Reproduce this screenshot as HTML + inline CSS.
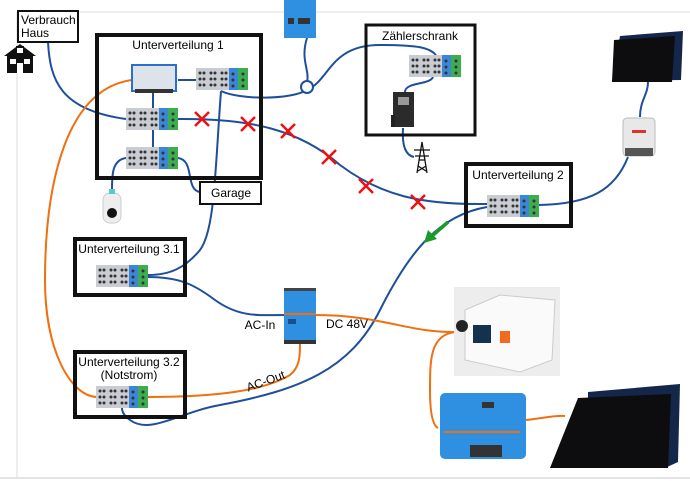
<!DOCTYPE html>
<html><head><meta charset="utf-8"><style>
html,body{margin:0;padding:0;background:#fff;}
svg{display:block;font-family:"Liberation Sans",sans-serif;}
</style></head><body>
<svg width="690" height="481" viewBox="0 0 690 481" xmlns="http://www.w3.org/2000/svg">
<defs>
<g id="tb">
<rect x="0" y="0" width="33" height="22" fill="#c9cdd3"/>
<rect x="33" y="0" width="9" height="22" fill="#3b86d8"/>
<rect x="42" y="0" width="10" height="22" fill="#3cae4f"/>
<g fill="#333">
<circle cx="4" cy="5" r="1.5"/><circle cx="8" cy="5" r="1.5"/><circle cx="4" cy="11" r="1.5"/><circle cx="8" cy="11" r="1.5"/><circle cx="4" cy="17" r="1.5"/><circle cx="8" cy="17" r="1.5"/>
<circle cx="15" cy="5" r="1.5"/><circle cx="19" cy="5" r="1.5"/><circle cx="15" cy="11" r="1.5"/><circle cx="19" cy="11" r="1.5"/><circle cx="15" cy="17" r="1.5"/><circle cx="19" cy="17" r="1.5"/>
<circle cx="26" cy="5" r="1.5"/><circle cx="30" cy="5" r="1.5"/><circle cx="26" cy="11" r="1.5"/><circle cx="30" cy="11" r="1.5"/><circle cx="26" cy="17" r="1.5"/><circle cx="30" cy="17" r="1.5"/>
<circle cx="37" cy="6" r="1.5"/><circle cx="37" cy="12" r="1.5"/><circle cx="37" cy="18" r="1.5"/>
<circle cx="47" cy="6" r="1.5"/><circle cx="47" cy="12" r="1.5"/><circle cx="47" cy="18" r="1.5"/>
</g>
</g>
<g id="x"><path d="M-7,-7 L7,7 M7,-7 L-7,7" stroke="#f01010" stroke-width="2.5"/></g>
</defs>
<rect width="690" height="481" fill="#fff"/>
<line x1="17" y1="12" x2="690" y2="12" stroke="#ddd"/>
<line x1="17" y1="12" x2="17" y2="478" stroke="#ddd"/>
<line x1="0" y1="478" x2="690" y2="478" stroke="#e3e3e3" stroke-width="2"/>

<g fill="none" stroke="#1f4e9c" stroke-width="2">
<path d="M48,42 C50,80 60,110 126,119"/>
<path d="M178,119 C250,118 300,130 340,165 C380,195 420,205 487,204"/>
<path d="M178,80 L196,80"/>
<path d="M221,91 C240,100 290,100 307,90 C330,80 330,45 380,45 C420,45 430,48 436,55"/>
<path d="M307,38 C300,60 310,70 307,82"/>
<circle cx="307" cy="87" r="6" fill="#fff"/>
<path d="M433,77 C430,85 405,82 405,92"/>
<path d="M403,128 C402,145 405,155 414,157"/>
<path d="M153,92 L153,109 M153,130 L153,147"/>
<path d="M126,158 C112,160 112,175 112,190"/>
<path d="M178,158 C195,160 185,190 200,192"/>
<path d="M221,91 C215,170 215,230 200,250 C185,268 170,275 148,275"/>
<path d="M148,277 C180,277 195,285 215,300 C240,318 260,315 285,315"/>
<path d="M487,207 C440,215 410,250 380,310 C350,370 300,390 220,405 C180,412 150,435 130,420 C122,414 122,410 122,408"/>
<path d="M539,205 C590,204 615,190 628,157"/>
<path d="M640,117 C640,100 648,95 648,82"/>
</g>
<g fill="none" stroke="#f07010" stroke-width="2">
<path d="M132,80 C60,90 45,200 45,280 C45,350 70,395 96,397"/>
<path d="M148,397 C220,397 265,390 290,375 C300,367 300,355 300,344"/>
<path d="M316,315 C380,315 410,333 455,332"/>
<path d="M455,332 C430,335 430,360 430,390 C430,410 432,425 438,428"/>
<path d="M526,420 C545,418 555,415 565,416"/>
</g>

<rect x="18" y="11" width="60" height="31" fill="#fff" stroke="#111" stroke-width="2"/>
<text x="21" y="24" font-size="12">Verbrauch</text><text x="21" y="37" font-size="12">Haus</text>
<g fill="#111"><polygon points="4,56 20,44 36,56"/><rect x="7" y="55" width="26" height="18"/><rect x="16" y="46" width="8" height="8"/></g>
<g fill="#fff"><rect x="10" y="59" width="6" height="5"/><rect x="24" y="59" width="6" height="5"/><rect x="17" y="48" width="6" height="5"/><rect x="17" y="63" width="6" height="10"/></g>

<rect x="97" y="35" width="164" height="143" fill="none" stroke="#111" stroke-width="4"/>
<text x="178" y="49" font-size="12" text-anchor="middle">Unterverteilung 1</text>
<rect x="132" y="65" width="44" height="26" fill="#dce3ea" stroke="#2a6fd0" stroke-width="2"/>
<rect x="135" y="89" width="38" height="4" fill="#333"/>
<use href="#tb" x="196" y="68"/>
<use href="#tb" x="126" y="108"/>
<use href="#tb" x="126" y="147"/>
<rect x="200" y="182" width="61" height="22" fill="#fff" stroke="#111" stroke-width="2"/>
<text x="231" y="197" font-size="12" text-anchor="middle">Garage</text>
<rect x="103" y="193" width="18" height="30" rx="7" fill="#eee" stroke="#ccc"/>
<rect x="109" y="189" width="6" height="5" fill="#5cc"/>
<circle cx="112" cy="213" r="5" fill="#111"/>

<rect x="284" y="0" width="32" height="38" fill="#2f8fe0"/>
<rect x="288" y="18" width="6" height="6" fill="#333"/><rect x="298" y="18" width="12" height="6" fill="#333"/>

<rect x="366" y="25" width="109" height="110" fill="none" stroke="#111" stroke-width="3"/>
<text x="420" y="40" font-size="12" text-anchor="middle">Zählerschrank</text>
<use href="#tb" x="409" y="55"/>
<rect x="393" y="92" width="21" height="35" fill="#2b2b2b"/><rect x="398" y="97" width="11" height="8" fill="#999"/><rect x="391" y="115" width="4" height="12" fill="#222"/>
<g stroke="#111" stroke-width="1.3" fill="none"><path d="M417,173 L422,142 L427,173 M419,160 L425,160 M414,150 L430,150 M415,156 L429,156 M418,166 L426,171 M426,166 L418,171"/></g>

<polygon points="620,36 683,31 681,80 612,81" fill="#14264a"/>
<polygon points="614,40 675,36 672,82 612,82" fill="#0d0d0f"/>
<rect x="623" y="118" width="32" height="38" rx="4" fill="#e8e8e8" stroke="#bbb"/>
<rect x="625" y="148" width="28" height="8" fill="#555"/><rect x="632" y="130" width="14" height="3" fill="#d33"/>

<rect x="466" y="164" width="105" height="62" fill="none" stroke="#111" stroke-width="4"/>
<text x="518" y="179" font-size="12" text-anchor="middle">Unterverteilung 2</text>
<use href="#tb" x="487" y="195"/>

<rect x="75" y="239" width="110" height="56" fill="none" stroke="#111" stroke-width="4"/>
<text x="129" y="253" font-size="12" text-anchor="middle">Unterverteilung 3.1</text>
<use href="#tb" x="96" y="265"/>

<rect x="75" y="352" width="110" height="65" fill="none" stroke="#111" stroke-width="4"/>
<text x="129" y="366" font-size="12" text-anchor="middle">Unterverteilung 3.2</text>
<text x="129" y="379" font-size="12" text-anchor="middle">(Notstrom)</text>
<use href="#tb" x="96" y="386"/>

<rect x="284" y="288" width="32" height="56" fill="#2f8fe0"/>
<rect x="284" y="288" width="32" height="3" fill="#444"/><rect x="284" y="340" width="32" height="4" fill="#333"/>
<rect x="284" y="313" width="32" height="2" fill="#f07010"/>
<rect x="288" y="319" width="8" height="5" fill="#1a4f8f"/>
<text x="260" y="329" font-size="12" text-anchor="middle">AC-In</text>
<text x="347" y="328" font-size="12" text-anchor="middle">DC 48V</text>
<text x="266" y="385" font-size="12" text-anchor="middle" transform="rotate(-20 266 382)">AC-Out</text>

<rect x="454" y="287" width="106" height="89" fill="#ededee"/>
<polygon points="465,310 500,295 555,300 552,360 520,372 465,360" fill="#fafafa" stroke="#ccc"/>
<circle cx="462" cy="326" r="6" fill="#222"/>
<rect x="473" y="325" width="18" height="18" fill="#14324e"/>
<rect x="500" y="331" width="10" height="12" fill="#f06a20"/>

<rect x="440" y="393" width="86" height="66" rx="5" fill="#2f8fe0"/>
<rect x="482" y="402" width="12" height="6" fill="#333"/>
<rect x="444" y="431" width="76" height="2" fill="#f07010"/>
<rect x="470" y="445" width="32" height="12" fill="#333"/>

<polygon points="588,392 680,384 678,462 665,468 588,468" fill="#14264a"/>
<polygon points="578,398 671,394 668,468 550,468" fill="#0d0d0f"/>

<use href="#x" x="202" y="119"/><use href="#x" x="248" y="124"/><use href="#x" x="288" y="131"/>
<use href="#x" x="329" y="157"/><use href="#x" x="366" y="186"/><use href="#x" x="418" y="202"/>
<path d="M448,222 L432,236" stroke="#1c9a2a" stroke-width="3.5"/>
<polygon points="424,243 428,230 437,239" fill="#1c9a2a"/>
</svg>
</body></html>
